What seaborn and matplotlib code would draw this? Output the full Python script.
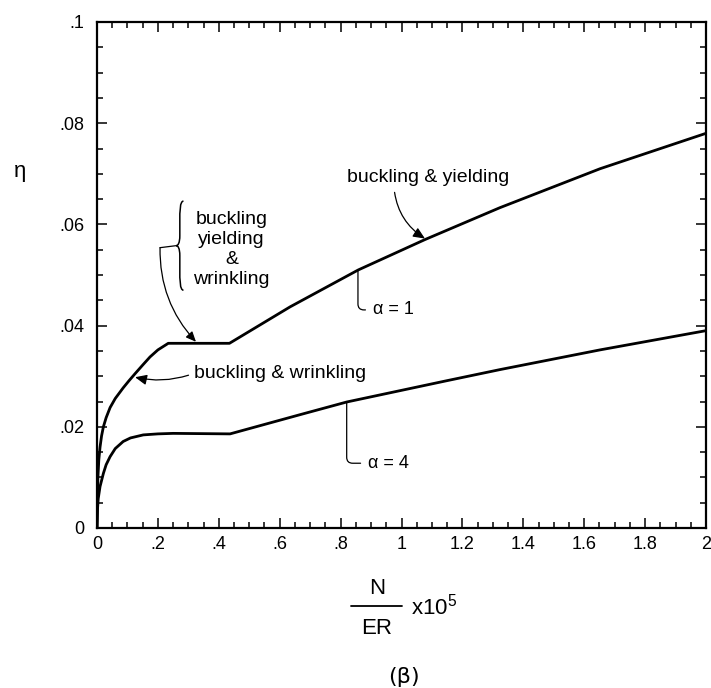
"""
Efficiency eta against N/ER for alpha = 1 and alpha = 4 (figure beta).
"""
import seaborn as sns
import matplotlib.pyplot as plt
import matplotlib.patches as mpatches
from matplotlib.lines import Line2D
from matplotlib.path import Path
import pandas as pd

# curve, alpha = 1
x_alpha1 = [0, 0.001, 0.003, 0.006, 0.01, 0.015, 0.021, 0.03, 0.043, 0.06,
            0.086, 0.105, 0.125, 0.15, 0.174, 0.2, 0.234,
            0.435, 0.634, 0.858, 1.077, 1.323, 1.652, 2.0]
eta_alpha1 = [0, 0.005, 0.0100, 0.0135, 0.0160, 0.0182, 0.0200, 0.0218, 0.0238, 0.0256,
              0.0277, 0.0291, 0.0305, 0.0322, 0.0338, 0.0352, 0.0365,
              0.0365, 0.0437, 0.0510, 0.0570, 0.0633, 0.0710, 0.078]

# curve, alpha = 4
x_alpha4 = [0, 0.002, 0.004, 0.01, 0.021, 0.03, 0.043, 0.06, 0.086, 0.11,
            0.152, 0.2, 0.25, 0.437,
            0.667, 0.82, 1.148, 1.323, 1.652, 2.0]
eta_alpha4 = [0, 0.0040, 0.0058, 0.0082, 0.0108, 0.0125, 0.0141, 0.0157, 0.0171, 0.0178,
              0.0184, 0.0186, 0.0187, 0.0186,
              0.0224, 0.0249, 0.0291, 0.0313, 0.0352, 0.039]

x_ticks = [0, 0.2, 0.4, 0.6, 0.8, 1.0, 1.2, 1.4, 1.6, 1.8, 2.0]
x_tick_labels = ['0', '.2', '.4', '.6', '.8', '1', '1.2', '1.4', '1.6', '1.8', '2']
y_ticks = [0, 0.02, 0.04, 0.06, 0.08, 0.1]
y_tick_labels = ['0', '.02', '.04', '.06', '.08', '.1']

sns.set_theme(style='ticks')
plt.rcParams['font.family'] = ['Liberation Sans', 'DejaVu Sans']
plt.rcParams['text.color'] = 'black'
plt.rcParams['axes.labelcolor'] = 'black'
plt.rcParams['mathtext.fontset'] = 'custom'
plt.rcParams['mathtext.rm'] = 'Liberation Sans'

data = pd.concat([
    pd.DataFrame({'x': x_alpha1, 'eta': eta_alpha1, 'alpha': 'alpha = 1'}),
    pd.DataFrame({'x': x_alpha4, 'eta': eta_alpha4, 'alpha': 'alpha = 4'}),
])

fig = plt.figure(figsize=(7.11, 6.88), dpi=100)
ax = fig.add_axes([97 / 711, 160 / 688, 609 / 711, 506 / 688])

sns.lineplot(data=data, x='x', y='eta', units='alpha', estimator=None,
             sort=False, color='black', linewidth=2.0, ax=ax, legend=False)

ax.set_xlim(0, 2)
ax.set_ylim(0, 0.1)
ax.set_xticks(x_ticks)
ax.set_xticklabels(x_tick_labels)
ax.set_yticks(y_ticks)
ax.set_yticklabels(y_tick_labels)
ax.set_xticks([i * 0.05 for i in range(41)], minor=True)
ax.set_yticks([i * 0.005 for i in range(21)], minor=True)
ax.tick_params(which='both', direction='in', top=True, right=True,
               width=1.1, colors='black', labelsize=13)
ax.tick_params(which='major', length=7)
ax.tick_params(which='minor', length=4.5)
ax.tick_params(axis='x', pad=6)
ax.tick_params(axis='y', pad=9)
for side in ax.spines.values():
    side.set_linewidth(1.6)
    side.set_color('black')
ax.set_xlabel('')
ax.set_ylabel('η', rotation=0, fontsize=16, ha='center', va='center')
ax.yaxis.set_label_coords(-0.126, 0.704)

# x label drawn as a stacked fraction N / ER x10^5
fig.text(377 / 711, 1 - 589 / 688, 'N', ha='center', va='center', fontsize=16)
fig.text(377 / 711, 1 - 629 / 688, 'ER', ha='center', va='center', fontsize=16)
fig.add_artist(Line2D([351 / 711, 402 / 711], [1 - 606 / 688, 1 - 606 / 688],
                      color='black', lw=1.3))
fig.text(411 / 711, 1 - 607 / 688, r'x10$^5$', ha='left', va='center', fontsize=16)

fig.text(404 / 711, 1 - 677 / 688, '(β)', ha='center', va='center',
         fontsize=16, family='DejaVu Sans')

arrow = dict(arrowstyle='-|>,head_length=0.5,head_width=0.22',
             color='black', lw=0.9, shrinkA=2, shrinkB=0)
leader = dict(arrowstyle='-', color='black', lw=0.9, shrinkA=3, shrinkB=0)

ax.annotate('buckling & yielding', xy=(1.077, 0.0572), xytext=(1.087, 0.0692),
            ha='center', va='center', fontsize=14,
            arrowprops=dict(arrow, connectionstyle='arc3,rad=0.25', relpos=(0.29, 0.0)))

ax.annotate('buckling & wrinkling', xy=(0.125, 0.0298), xytext=(0.32, 0.0306),
            ha='left', va='center', fontsize=14,
            arrowprops=dict(arrow, connectionstyle='arc3,rad=-0.15', relpos=(0.0, 0.5)))

ax.text(0.442, 0.0550, 'buckling\nyielding\n&\nwrinkling', ha='center', va='center',
        fontsize=14, linespacing=1.22)

# curly brace left of the stacked label
bx, bt, bb = 0.272, 0.0646, 0.0470
bm = (bt + bb) / 2
w = 0.012
verts = [(bx + w, bt), (bx, bt), (bx, bt - 0.002), (bx, bt - 0.004),
         (bx, bm + 0.002),
         (bx, bm + 0.0005), (bx - 0.5 * w, bm), (bx - w, bm),
         (bx - 0.5 * w, bm), (bx, bm - 0.0005), (bx, bm - 0.002),
         (bx, bb + 0.004),
         (bx, bb + 0.002), (bx, bb), (bx + w, bb)]
codes = [Path.MOVETO, Path.CURVE4, Path.CURVE4, Path.CURVE4,
         Path.LINETO,
         Path.CURVE4, Path.CURVE4, Path.CURVE4,
         Path.CURVE4, Path.CURVE4, Path.CURVE4,
         Path.LINETO,
         Path.CURVE4, Path.CURVE4, Path.CURVE4]
ax.add_patch(mpatches.PathPatch(Path(verts, codes), fill=False, lw=1.1,
                                edgecolor='black'))
ax.plot([bx - w, 0.207], [bm, bm - 0.0004], color='black', lw=0.9)
ax.annotate('', xy=(0.325, 0.0368), xytext=(0.207, bm - 0.0004),
            arrowprops=dict(arrow, shrinkA=0, connectionstyle='arc3,rad=0.2'))

ax.annotate('α = 1', xy=(0.857, 0.0508), xytext=(0.906, 0.0431),
            ha='left', va='center', fontsize=13,
            arrowprops=dict(leader, connectionstyle='angle,angleA=0,angleB=90,rad=6'))
ax.annotate('α = 4', xy=(0.82, 0.0247), xytext=(0.89, 0.0128),
            ha='left', va='center', fontsize=13,
            arrowprops=dict(leader, connectionstyle='angle,angleA=0,angleB=90,rad=6'))

fig.savefig('out.png', dpi=100, facecolor='white')
